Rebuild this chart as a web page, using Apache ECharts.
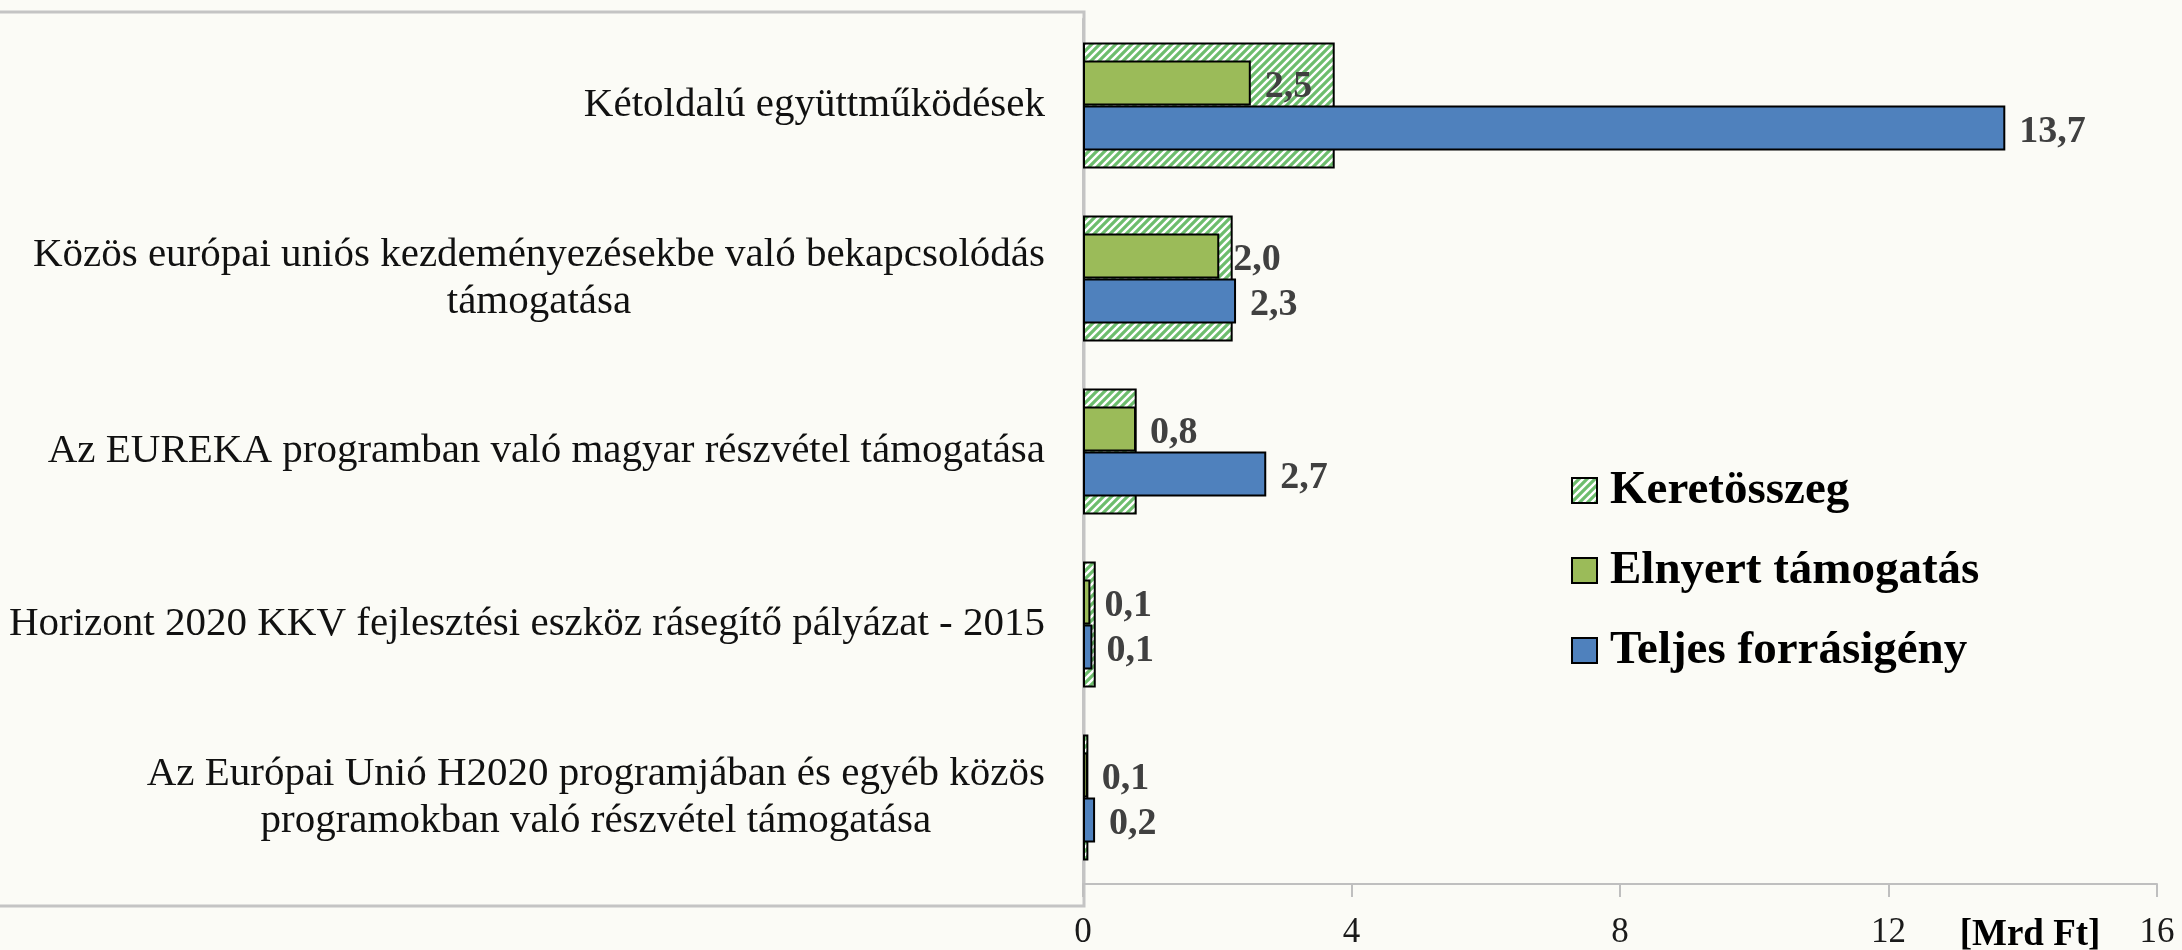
<!DOCTYPE html>
<html>
<head>
<meta charset="utf-8">
<script src="https://cdn.jsdelivr.net/npm/echarts@6/dist/echarts.min.js"></script>
<style>
  html, body { margin: 0; padding: 0; background: #fbfbf6; }
  #chart { width: 2182px; height: 950px; }
</style>
</head>
<body>
<div id="chart"></div>
<script>
// kategóriák (felülről lefelé)
var categories = [
  'Kétoldalú együttműködések',
  'Közös európai uniós kezdeményezésekbe való bekapcsolódás\ntámogatása',
  'Az EUREKA programban való magyar részvétel támogatása',
  'Horizont 2020 KKV fejlesztési eszköz rásegítő pályázat - 2015',
  'Az Európai Unió H2020 programjában és egyéb közös\nprogramokban való részvétel támogatása'
]
// Mrd Ft
var keretosszeg = [3.75, 2.23, 0.80, 0.19, 0.08]
var elnyert = [2.5, 2.03, 0.79, 0.11, 0.07]
var teljes = [13.74, 2.28, 2.73, 0.14, 0.18]
var xTicks = { min: 0, max: 16, interval: 4 }

var serif = '"Liberation Serif", "DejaVu Serif", serif'

// csíkos minta a keretösszeghez
var pat = document.createElement('canvas')
pat.width = 8
pat.height = 8
var ctx = pat.getContext('2d')
ctx.fillStyle = '#ffffff'
ctx.fillRect(0, 0, 8, 8)
ctx.strokeStyle = '#6dbd6d'
ctx.lineWidth = 3.2
ctx.beginPath()
ctx.moveTo(-4, 4); ctx.lineTo(4, -4)
ctx.moveTo(0, 8); ctx.lineTo(8, 0)
ctx.moveTo(4, 12); ctx.lineTo(12, 4)
ctx.stroke()

function valueLabel (p) {
  return p.value.toFixed(1).replace('.', ',')
}

var labelStyle = {
  show: true,
  position: 'right',
  distance: 14,
  offset: [0, 4],
  formatter: valueLabel,
  fontFamily: serif,
  fontWeight: 'bold',
  fontSize: 38,
  color: '#404040'
}

var myChart = echarts.init(document.getElementById('chart'))
var option = {
  backgroundColor: '#fbfbf6',
  animation: false,
  graphic: [
    {
      type: 'rect',
      z: -10,
      shape: { x: -4, y: 12, width: 1088, height: 894 },
      style: { fill: '#fbfbf6', stroke: '#c4c4c4', lineWidth: 3 }
    }
  ],
  legend: {
    orient: 'vertical',
    left: 1566,
    top: 462,
    itemWidth: 25,
    itemHeight: 25,
    itemGap: 33,
    icon: 'rect',
    data: ['Keretösszeg', 'Elnyert támogatás', 'Teljes forrásigény'],
    textStyle: {
      fontFamily: serif,
      fontWeight: 'bold',
      fontSize: 47,
      color: '#000',
      padding: [0, 0, 0, 8]
    }
  },
  grid: {
    left: 1083,
    right: 25,
    top: 19,
    bottom: 66,
    outerBoundsMode: 'none'
  },
  xAxis: {
    type: 'value',
    min: xTicks.min,
    max: xTicks.max,
    interval: xTicks.interval,
    name: '[Mrd Ft]',
    nameLocation: 'end',
    nameGap: -127,
    nameTextStyle: {
      align: 'center',
      verticalAlign: 'top',
      padding: [33, 0, 0, 0],
      fontFamily: serif,
      fontWeight: 'bold',
      fontSize: 37,
      color: '#000'
    },
    splitLine: { show: false },
    axisLine: { show: true, lineStyle: { color: '#bfbfbf', width: 2 } },
    axisTick: { show: true, length: 13, lineStyle: { color: '#bfbfbf', width: 2 } },
    axisLabel: {
      margin: 31,
      fontFamily: serif,
      fontSize: 35,
      color: '#1a1a1a'
    }
  },
  yAxis: [
    {
      type: 'category',
      inverse: true,
      data: categories,
      axisLine: { show: true, lineStyle: { color: '#c4c4c4', width: 3 } },
      axisTick: { show: false },
      axisLabel: {
        interval: 0,
        align: 'right',
        margin: 38,
        formatter: function (v) {
          return v.split('\n').map(function (l) { return '{c|' + l + '}' }).join('\n')
        },
        rich: {
          c: {
            align: 'center',
            fontFamily: serif,
            fontSize: 41,
            lineHeight: 47,
            color: '#111'
          }
        }
      }
    },
    {
      type: 'category',
      inverse: true,
      data: categories,
      show: false
    }
  ],
  series: [
    {
      name: 'Keretösszeg',
      type: 'bar',
      yAxisIndex: 0,
      barWidth: 126,
      data: keretosszeg,
      itemStyle: {
        color: { image: pat, repeat: 'repeat' },
        borderColor: '#000',
        borderWidth: 2
      }
    },
    {
      name: 'Elnyert támogatás',
      type: 'bar',
      yAxisIndex: 1,
      barWidth: 45,
      barGap: '0%',
      data: elnyert,
      itemStyle: { color: '#9bbb59', borderColor: '#000', borderWidth: 2 },
      label: labelStyle
    },
    {
      name: 'Teljes forrásigény',
      type: 'bar',
      yAxisIndex: 1,
      barWidth: 45,
      barGap: '0%',
      data: teljes,
      itemStyle: { color: '#4f81bd', borderColor: '#000', borderWidth: 2 },
      label: labelStyle
    }
  ]
}
myChart.setOption(option)
window.addEventListener('resize', function () {
  myChart.resize()
})
</script>
</body>
</html>
